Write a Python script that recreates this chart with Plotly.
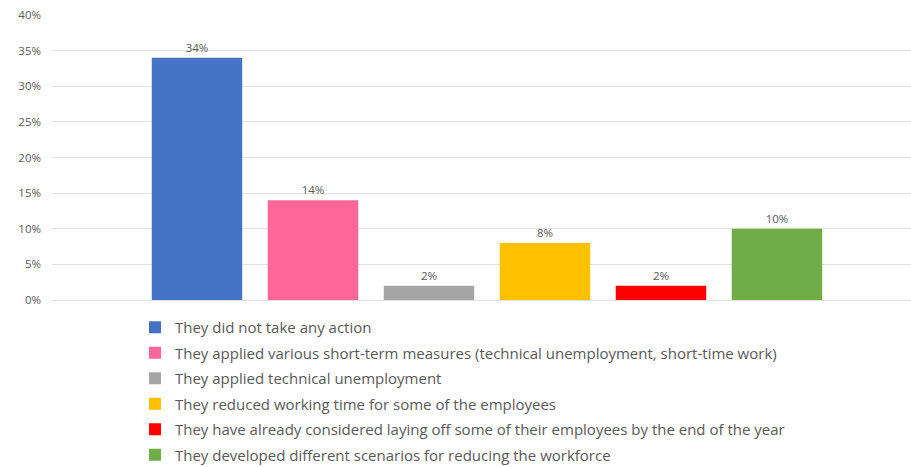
import plotly.graph_objects as go

series = [
    "They did not take any action",
    "They applied various short-term measures (technical unemployment, short-time work)",
    "They applied technical unemployment",
    "They reduced working time for some of the employees",
    "They have already considered laying off some of their employees by the end of the year",
    "They developed different scenarios for reducing the workforce",
]
values = [34, 14, 2, 8, 2, 10]
colors = ["#4472C4", "#FF6699", "#A5A5A5", "#FFC000", "#FF0000", "#70AD47"]
category = ["All"]
y_ticks = [0, 5, 10, 15, 20, 25, 30, 35, 40]
y_tick_labels = [f"{t}%" for t in y_ticks]

fig = go.Figure()
for i, (name, v, c) in enumerate(zip(series, values, colors)):
    fig.add_trace(go.Bar(
        x=category, y=[v], name=name, marker_color=c, marker_line_width=0,
        text=[f"{v}%"], textposition="outside", cliponaxis=False,
        textfont=dict(size=11.5, color="#595959"),
        legendgroup=f"g{i}",
    ))

fig.update_layout(
    width=911, height=467,
    margin=dict(l=52, r=0, t=15, b=167),
    paper_bgcolor="white", plot_bgcolor="white",
    barmode="group", bargap=0.2, bargroupgap=0.22,
    font=dict(family="Open Sans", color="#595959"),
    showlegend=True,
    legend=dict(
        xref="paper", yref="container",
        x=0.0966, y=0.334, xanchor="left", yanchor="top",
        orientation="v", font=dict(size=15, color="#595959"),
        tracegroupgap=3, itemwidth=30, bgcolor="rgba(0,0,0,0)",
    ),
    xaxis=dict(range=[-0.5, 0.4874], showticklabels=False, showgrid=False,
               zeroline=False, showline=False, fixedrange=True),
    yaxis=dict(range=[0, 40], tickmode="array", tickvals=y_ticks,
               ticktext=y_tick_labels,
               showgrid=True, gridcolor="#E2E2E2", gridwidth=1,
               zeroline=True, zerolinecolor="#E2E2E2", zerolinewidth=1,
               showline=False, ticks="", ticklabelstandoff=10,
               tickfont=dict(size=11.5, color="#595959")),
)

fig.write_html(
    "out.html",
    config={"displayModeBar": False},
    post_script="document.body.style.margin='0px';document.body.style.overflow='hidden';",
)
